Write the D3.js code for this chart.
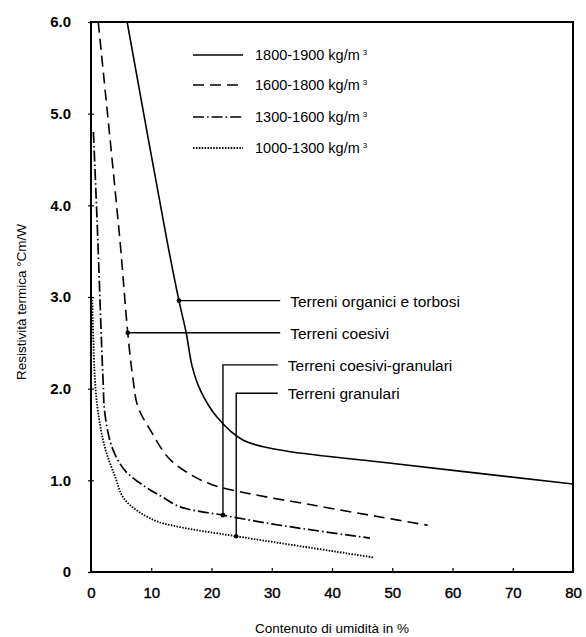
<!DOCTYPE html>
<html>
<head>
<meta charset="utf-8">
<script src="https://cdn.jsdelivr.net/npm/d3@7"></script>
<style>
  body { margin: 0; background: #fff; }
  svg { font-family: "Liberation Sans", Arial, sans-serif; }
</style>
</head>
<body>
<div class="container"></div>
<script>
// tick labels
const xTicks = [0, 10, 20, 30, 40, 50, 60, 70, 80];
const yTicks = [0, 1, 2, 3, 4, 5, 6];

// legend / series names
const densities = ["1800-1900", "1600-1800", "1300-1600", "1000-1300"];
const soilTypes = ["Terreni organici e torbosi", "Terreni coesivi", "Terreni coesivi-granulari", "Terreni granulari"];

// moisture content (%) and thermal resistivity (°Cm/W)
const moist1800 = [6.0, 12.6, 14.6, 15.8, 16.8, 18.1, 20.9, 25.2, 31.4, 48.0, 80.0];
const resist1800 = [6.0, 3.62, 2.96, 2.61, 2.24, 1.99, 1.69, 1.44, 1.33, 1.20, 0.96];

const moist1600 = [1.2, 4.8, 6.1, 7.0, 7.8, 10.1, 12.8, 16.1, 20.2, 25.9, 36.8, 48.0, 55.9];
const resist1600 = [6.0, 3.62, 2.61, 2.09, 1.80, 1.52, 1.25, 1.08, 0.95, 0.86, 0.73, 0.60, 0.51];

const moist1300 = [0.4, 1.0, 2.0, 2.3, 3.5, 5.6, 9.0, 11.8, 14.8, 21.9, 31.4, 46.3];
const resist1300 = [4.8, 3.85, 2.09, 1.73, 1.36, 1.11, 0.93, 0.82, 0.71, 0.62, 0.51, 0.37];

const moist1000 = [0.2, 0.66, 1.2, 2.3, 4.0, 5.6, 10.3, 14.8, 24.1, 46.8];
const resist1000 = [3.0, 2.09, 1.73, 1.36, 1.04, 0.79, 0.57, 0.49, 0.39, 0.16];

// marked points for the soil-type call-outs and the height of their labels
const markMoist = [14.6, 6.1, 21.9, 24.1];
const markResist = [2.96, 2.61, 0.62, 0.39];
const labelResist = [2.96, 2.61, 2.26, 1.95];
const labelMoist = [31.4, 31.4, 31.0, 31.0];

const W = 586, H = 637;
const mLeft = 91, mRight = 573, mTop = 22, mBottom = 572;

const svg = d3.select(".container").append("svg")
  .attr("width", W).attr("height", H);

const x = d3.scaleLinear().domain([0, 80]).range([mLeft, mRight]);
const y = d3.scaleLinear().domain([0, 6]).range([mBottom, mTop]);

const styles = [
  { dash: null, width: 1.6 },
  { dash: "11,6", width: 1.6 },
  { dash: "11,3,1.6,3", width: 1.7 },
  { dash: "1.5,1.4", width: 1.8 }
];

const series = [
  [moist1800, resist1800],
  [moist1600, resist1600],
  [moist1300, resist1300],
  [moist1000, resist1000]
].map(([mx, ry]) => mx.map((v, i) => [v, ry[i]]));

// axes
const xAxis = d3.axisBottom(x).tickValues(xTicks).tickSize(-4).tickPadding(15);
const yAxis = d3.axisLeft(y).tickValues(yTicks).tickSize(3).tickPadding(17)
  .tickFormat(d => d === 0 ? "0" : d3.format(".1f")(d));

svg.append("g")
  .attr("transform", `translate(0,${mBottom})`)
  .call(xAxis)
  .call(g => g.select(".domain").remove())
  .call(g => g.selectAll(".tick line").attr("stroke", "#000").attr("stroke-width", 1.2))
  .call(g => g.selectAll("text").attr("font-size", 15).attr("fill", "#000")
    .attr("stroke", "#000").attr("stroke-width", 0.4)
    .attr("font-family", "Liberation Sans, Arial, sans-serif"));

svg.append("g")
  .attr("transform", `translate(${mLeft},0)`)
  .call(yAxis)
  .call(g => g.select(".domain").remove())
  .call(g => g.selectAll(".tick line").attr("x1", 3).attr("x2", -3)
    .attr("stroke", "#000").attr("stroke-width", 1.2))
  .call(g => g.selectAll("text").attr("font-size", 15).attr("font-weight", "bold")
    .attr("fill", "#000").attr("font-family", "Liberation Sans, Arial, sans-serif"));

// frame
svg.append("rect")
  .attr("x", mLeft).attr("y", mTop)
  .attr("width", mRight - mLeft).attr("height", mBottom - mTop)
  .attr("fill", "none").attr("stroke", "#000").attr("stroke-width", 2);

svg.append("clipPath").attr("id", "plot")
  .append("rect").attr("x", mLeft).attr("y", mTop)
  .attr("width", mRight - mLeft).attr("height", mBottom - mTop);

const line = d3.line()
  .x(d => x(d[0])).y(d => y(d[1]))
  .curve(d3.curveCatmullRom.alpha(0.5));

svg.append("g").attr("clip-path", "url(#plot)")
  .selectAll("path")
  .data(series)
  .enter()
  .append("path")
  .attr("d", line)
  .attr("fill", "none")
  .attr("stroke", "#000")
  .attr("stroke-width", (d, i) => styles[i].width)
  .attr("stroke-dasharray", (d, i) => styles[i].dash);

// call-outs
const callouts = soilTypes.map((t, i) => ({
  text: t, mx: markMoist[i], my: markResist[i], ly: labelResist[i], lx: labelMoist[i]
}));

const co = svg.append("g");
co.selectAll("path")
  .data(callouts)
  .enter()
  .append("path")
  .attr("d", d => `M${x(d.mx)},${y(d.my)}V${y(d.ly)}H${x(d.lx)}`)
  .attr("fill", "none")
  .attr("stroke", "#000")
  .attr("stroke-width", 1.4);

co.selectAll("circle")
  .data(callouts)
  .enter()
  .append("circle")
  .attr("cx", d => x(d.mx)).attr("cy", d => y(d.my))
  .attr("r", 2.3).attr("fill", "#000");

co.selectAll("text")
  .data(callouts)
  .enter()
  .append("text")
  .attr("x", d => x(d.lx) + 10)
  .attr("y", d => y(d.ly) + 6)
  .attr("font-size", 15.5)
  .text(d => d.text);

// legend
const legendRows = [55, 85, 117, 148];
const lg = svg.append("g");
densities.forEach((dn, i) => {
  lg.append("line")
    .attr("x1", 193).attr("x2", 243)
    .attr("y1", legendRows[i]).attr("y2", legendRows[i])
    .attr("stroke", "#000")
    .attr("stroke-width", styles[i].width)
    .attr("stroke-dasharray", styles[i].dash);
  const t = lg.append("text")
    .attr("x", 255).attr("y", legendRows[i] + 5)
    .attr("font-size", 14.5);
  t.append("tspan").text(dn + " kg/m");
  t.append("tspan").attr("font-size", 8).attr("dx", 3).attr("dy", -5).text("3");
});

// axis titles
svg.append("text")
  .attr("x", (mLeft + mRight) / 2).attr("y", 633)
  .attr("text-anchor", "middle")
  .attr("font-size", 13.5)
  .text("Contenuto di umidità in %");

svg.append("text")
  .attr("transform", "translate(26,302) rotate(-90)")
  .attr("text-anchor", "middle")
  .attr("font-size", 13.5)
  .text("Resistività termica °Cm/W");
</script>
</body>
</html>
